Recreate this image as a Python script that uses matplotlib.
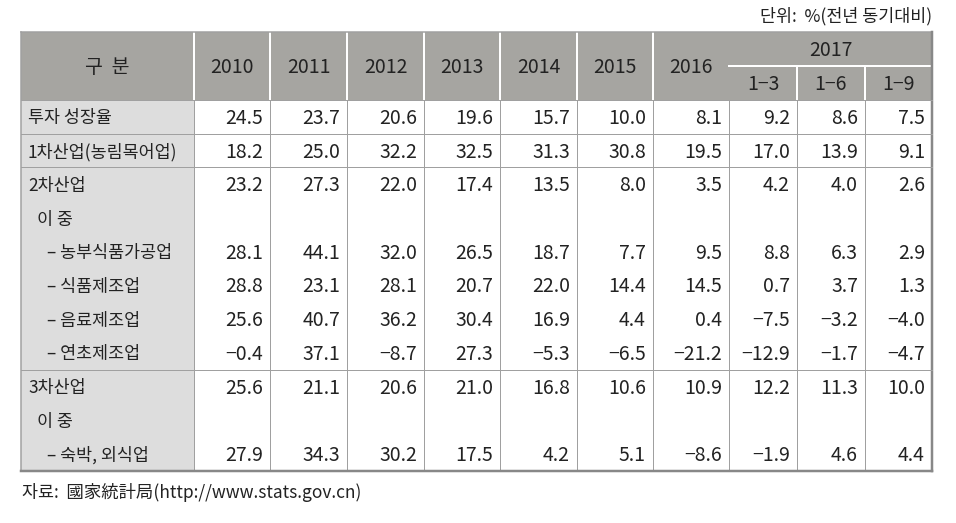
import matplotlib
matplotlib.use("Agg")
import matplotlib.pyplot as plt
from matplotlib.patches import Rectangle

plt.rcParams['font.family'] = ['Noto Sans CJK KR', 'DejaVu Sans']

# Table content
years = ['2010', '2011', '2012', '2013', '2014', '2015', '2016']
year_2017 = '2017'
sub_periods = ['1\u22123', '1\u22126', '1\u22129']
row_labels = ['투자 성장율', '1차산업(농림목어업)', '2차산업', '이 중',
              '\u2013 농부식품가공업', '\u2013 식품제조업', '\u2013 음료제조업', '\u2013 연초제조업',
              '3차산업', '이 중', '\u2013 숙박, 외식업']
row_indent = [0, 0, 0, 1, 2, 2, 2, 2, 0, 1, 2]

invest_growth = [24.5, 23.7, 20.6, 19.6, 15.7, 10.0, 8.1, 9.2, 8.6, 7.5]
primary = [18.2, 25.0, 32.2, 32.5, 31.3, 30.8, 19.5, 17.0, 13.9, 9.1]
secondary = [23.2, 27.3, 22.0, 17.4, 13.5, 8.0, 3.5, 4.2, 4.0, 2.6]
agri_food_proc = [28.1, 44.1, 32.0, 26.5, 18.7, 7.7, 9.5, 8.8, 6.3, 2.9]
food_mfg = [28.8, 23.1, 28.1, 20.7, 22.0, 14.4, 14.5, 0.7, 3.7, 1.3]
beverage_mfg = [25.6, 40.7, 36.2, 30.4, 16.9, 4.4, 0.4, -7.5, -3.2, -4.0]
tobacco_mfg = [-0.4, 37.1, -8.7, 27.3, -5.3, -6.5, -21.2, -12.9, -1.7, -4.7]
tertiary = [25.6, 21.1, 20.6, 21.0, 16.8, 10.6, 10.9, 12.2, 11.3, 10.0]
lodging_food = [27.9, 34.3, 30.2, 17.5, 4.2, 5.1, -8.6, -1.9, 4.6, 4.4]

rows = [invest_growth, primary, secondary, None, agri_food_proc, food_mfg,
        beverage_mfg, tobacco_mfg, tertiary, None, lodging_food]
# rows after which a horizontal rule is drawn
group_breaks = [0, 1, 7]

unit_text = '단위:  %(전년 동기대비)'
source_text = '자료:  國家統計局(http://www.stats.gov.cn)'

# Layout (pixels)
col_edges = [21, 194, 270, 347, 424, 500, 577, 653, 729, 797, 865, 932]
top, mid, head_bot, bottom = 32, 66, 100, 471
row_h = (bottom - head_bot) / len(rows)

header_fill = '#a6a5a1'
label_fill = '#dddddd'
rule = '#a0a0a0'
txt = '#222222'
px = 0.72
fs = 14        # numbers / header
fs_label = 12.5  # korean row labels (reference font is narrower)
dy = 1.5  # small nudge so glyphs sit on the visual centre

fig = plt.figure(figsize=(9.56, 5.23), dpi=100)
ax = fig.add_axes([0, 0, 1, 1])
ax.set_xlim(0, 956)
ax.set_ylim(523, 0)
ax.axis('off')

# fills
ax.add_patch(Rectangle((col_edges[0], top), col_edges[-1] - col_edges[0], head_bot - top,
                       color=header_fill, lw=0))
ax.add_patch(Rectangle((col_edges[0], head_bot), col_edges[1] - col_edges[0], bottom - head_bot,
                       color=label_fill, lw=0))

# header white separators
for x in col_edges[1:8]:
    ax.plot([x, x], [top, head_bot], color='white', lw=2 * px)
for x in col_edges[9:11]:
    ax.plot([x, x], [mid, head_bot], color='white', lw=2 * px)
ax.plot([col_edges[8], col_edges[-1]], [mid, mid], color='white', lw=2 * px)

# outer / body rules
ax.plot([col_edges[0], col_edges[-1]], [top, top], color=rule, lw=1.5 * px)
ax.plot([col_edges[0], col_edges[0]], [top, bottom], color=rule, lw=1.5 * px)
ax.plot([col_edges[-1], col_edges[-1]], [top, bottom], color='#888888', lw=2.5 * px)
ax.plot([col_edges[0], col_edges[-1]], [head_bot, head_bot], color=rule, lw=1 * px)
for x in col_edges[1:-1]:
    ax.plot([x, x], [head_bot, bottom], color=rule, lw=1 * px)
for i in group_breaks:
    y = head_bot + (i + 1) * row_h
    ax.plot([col_edges[0], col_edges[-1]], [y, y], color=rule, lw=1 * px)
ax.plot([col_edges[0], col_edges[-1]], [bottom, bottom], color='#888888', lw=2.5 * px)

# header text
ax.text((col_edges[0] + col_edges[1]) / 2, (top + head_bot) / 2 + dy, '구  분',
        ha='center', va='center', fontsize=fs, color=txt)
for j, yr in enumerate(years):
    ax.text((col_edges[j + 1] + col_edges[j + 2]) / 2, (top + head_bot) / 2 + dy, yr,
            ha='center', va='center', fontsize=fs, color=txt)
ax.text((col_edges[8] + col_edges[-1]) / 2, (top + mid) / 2 + dy, year_2017,
        ha='center', va='center', fontsize=fs, color=txt)
for j, sp in enumerate(sub_periods):
    ax.text((col_edges[j + 8] + col_edges[j + 9]) / 2, (mid + head_bot) / 2 + dy, sp,
            ha='center', va='center', fontsize=fs, color=txt)

# body text
indent_px = [7, 16, 26]
for i, (label, vals) in enumerate(zip(row_labels, rows)):
    yc = head_bot + (i + 0.5) * row_h + dy
    ax.text(col_edges[0] + indent_px[row_indent[i]], yc, label,
            ha='left', va='center', fontsize=fs_label, color=txt)
    if vals is None:
        continue
    for j, v in enumerate(vals):
        s = f'{v:.1f}'.replace('-', '\u2212')
        ax.text(col_edges[j + 2] - 7, yc, s, ha='right', va='center',
                fontsize=fs, color=txt)

ax.text(col_edges[-1], 16, unit_text, ha='right', va='center', fontsize=12.5, color=txt)
ax.text(22, 493, source_text, ha='left', va='center', fontsize=12.5, color=txt)

fig.savefig('out.png', dpi=100)
